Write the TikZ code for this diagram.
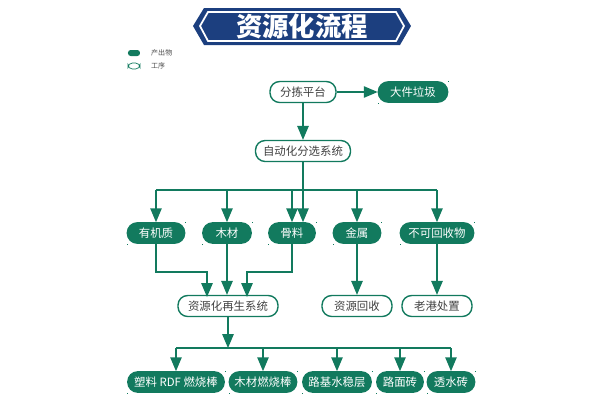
\documentclass[tikz,border=0pt]{standalone}
\usepackage{fontspec}
\newfontfamily\cjk{Noto Sans CJK SC}
\usetikzlibrary{arrows}
\definecolor{leafgreen}{HTML}{127A5E}
\definecolor{bannerblue}{HTML}{1C3F7F}
\tikzstyle{every node}=[font=\cjk\fontsize{6.5}{7}\selectfont]
\tikzstyle{proc}=[draw=leafgreen,thick,rounded corners=5.5pt,minimum height=21*0.02cm,inner sep=0pt,text=black!75]
\tikzstyle{prod}=[minimum height=21*0.02cm,inner sep=0pt,text=white]
\tikzstyle{flow}=[leafgreen,thick,-triangle 45]
\tikzstyle{wire}=[leafgreen,thick]
% green leaf: rounded top-left and bottom-right
\newcommand\leaf[1]{
\fill[leafgreen,rounded corners=6pt] (#1.south west) rectangle (#1.north east);
\fill[leafgreen] (#1.north east) rectangle ++(-8*0.02,-8*-0.02);
\fill[leafgreen] (#1.south west) rectangle ++(8*0.02,8*-0.02);
}
\begin{document}
\begin{tikzpicture}[x=0.02cm,y=-0.02cm]
\useasboundingbox (0,0) rectangle (600,400);

% title banner
\fill[bannerblue] (193,26) -- (204,8) -- (400,8) -- (411,26) -- (400,45) -- (204,45) -- cycle;
\draw[white,line width=1pt] (200,26) -- (208,12) -- (396,12) -- (404,26) -- (396,41) -- (208,41) -- cycle;
\node[text=white,font=\cjk\bfseries\fontsize{15}{16}\selectfont] (title) at (302,26) {资源化流程};

% legend
\fill[leafgreen,rounded corners=1.5pt] (128,50) rectangle (140,56);
\node[anchor=west,text=black!70,font=\cjk\fontsize{4}{5}\selectfont] (lgprod) at (145,53) {产出物};
\draw[leafgreen,rounded corners=2.5pt] (128,63) rectangle (140,69);
\node[anchor=west,text=black!70,font=\cjk\fontsize{4}{5}\selectfont] (lgproc) at (145,66) {工序};

% processes
\node[proc,minimum width=66*0.02cm] (sort) at (303,92) {分拣平台};
\node[proc,minimum width=95*0.02cm] (auto) at (303,151) {自动化分选系统};
\node[proc,minimum width=100*0.02cm] (regen) at (228,306) {资源化再生系统};
\node[proc,minimum width=70*0.02cm] (recyc) at (357,306) {资源回收};
\node[proc,minimum width=70*0.02cm] (dump) at (437,306) {老港处置};

% products
\node[prod,minimum width=70*0.02cm] (bulky) at (413,92) {};
\node[prod,minimum width=58*0.02cm] (organic) at (156,233) {};
\node[prod,minimum width=49*0.02cm] (wood) at (227,233) {};
\node[prod,minimum width=47*0.02cm] (aggr) at (292,233) {};
\node[prod,minimum width=48*0.02cm] (metal) at (357,233) {};
\node[prod,minimum width=74*0.02cm] (waste) at (437,233) {};
\node[prod,minimum width=97*0.02cm] (rdf) at (176,382) {};
\node[prod,minimum width=68*0.02cm] (rod) at (263,382) {};
\node[prod,minimum width=69*0.02cm] (base) at (337,382) {};
\node[prod,minimum width=47*0.02cm] (pave) at (400,382) {};
\node[prod,minimum width=48*0.02cm] (perm) at (451,382) {};
\leaf{bulky} \leaf{organic} \leaf{wood} \leaf{aggr} \leaf{metal} \leaf{waste}
\leaf{rdf} \leaf{rod} \leaf{base} \leaf{pave} \leaf{perm}
\node[text=white] at (bulky) {大件垃圾};
\node[text=white] at (organic) {有机质};
\node[text=white] at (wood) {木材};
\node[text=white] at (aggr) {骨料};
\node[text=white] at (metal) {金属};
\node[text=white] at (waste) {不可回收物};
\node[text=white] at (rdf) {塑料 RDF 燃烧棒};
\node[text=white] at (rod) {木材燃烧棒};
\node[text=white] at (base) {路基水稳层};
\node[text=white] at (pave) {路面砖};
\node[text=white] at (perm) {透水砖};

% connectors
\draw[flow] (sort) -- (bulky);
\draw[flow] (sort) -- (auto);
\coordinate (bus1) at (303,190);
\draw[flow] (auto) -- (bus1 |- organic.north);
\draw[wire] (bus1 -| organic) -- (bus1 -| waste);
\foreach \n in {organic,wood,aggr,metal,waste}
  \draw[flow] (bus1 -| \n) -- (\n);
\coordinate (join) at (0,272);
\draw[flow] (organic) |- (join -| 207,0) -- (207,297);
\draw[flow] (wood) -- (wood |- regen.north);
\draw[flow] (aggr) |- (join -| 247,0) -- (247,297);
\draw[flow] (metal) -- (recyc);
\draw[flow] (waste) -- (dump);
\coordinate (bus2) at (228,348);
\draw[flow] (regen) -- (bus2);
\draw[wire] (bus2 -| rdf) -- (bus2 -| perm);
\foreach \n in {rdf,rod,base,pave,perm}
  \draw[flow] (bus2 -| \n) -- (\n);

\end{tikzpicture}
\end{document}
